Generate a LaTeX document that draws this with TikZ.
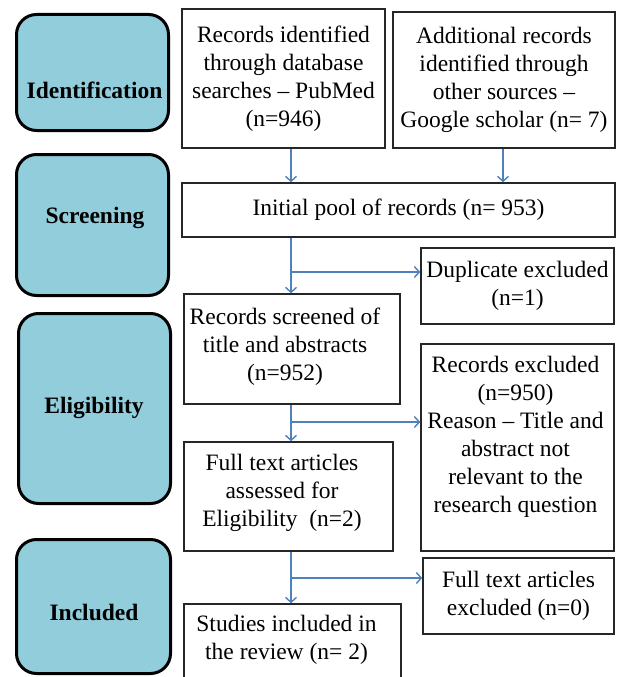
\documentclass[tikz,border=0pt]{standalone}
\usepackage{fontspec}
\setmainfont{Liberation Serif}
\usetikzlibrary{arrows.meta}
\definecolor{stagefill}{HTML}{92CDDC}
\definecolor{arrowblue}{HTML}{4F81BD}
\begin{document}
\begin{tikzpicture}[x=1pt,y=-1pt,
  stage/.style={draw=black, line width=3pt, fill=stagefill, rounded corners=20pt, inner sep=0pt},
  stagetext/.style={font=\bfseries\fontsize{23.5}{28}\selectfont, inner sep=0pt},
  box/.style={draw=black!85, line width=1.5pt, inner sep=0pt, align=center, font=\fontsize{23.5}{28}\selectfont},
  txt/.style={inner sep=0pt, align=center, font=\fontsize{23.5}{28}\selectfont},
  flow/.style={draw=arrowblue, line width=1.4pt, -{Straight Barb[length=5pt,width=11pt,line width=1.4pt]}}]
\useasboundingbox (0,0) rectangle (617,677);
\fill[white] (0,0) rectangle (617,677);

% stage boxes
\node[stage, minimum width=152pt, minimum height=116pt] (sid) at (92.5,72.5) {};
\node[stagetext] (sidt) at (94.5,90) {Identification};
\node[stage, minimum width=152pt, minimum height=141pt] (ssc) at (92.5,225) {};
\node[stagetext] (ssct) at (95,218) {Screening};
\node[stage, minimum width=152pt, minimum height=190pt] (sel) at (94.5,408.5) {};
\node[stagetext] (selt) at (94,408) {Eligibility};
\node[stage, minimum width=154pt, minimum height=134pt] (sin) at (93.5,606.5) {};
\node[stagetext] (sint) at (94,612) {Included};

% flow boxes
\node[box, minimum width=203pt, minimum height=139pt] (r1) at (283.5,78.5)
  {Records identified\\through database\\searches -- PubMed\\(n=946)};
\node[box, minimum width=222pt, minimum height=136pt] (r2) at (504,80)
  {Additional records\\identified through\\other sources --\\Google scholar (n= 7)};
\node[box, minimum width=433pt, minimum height=54pt] (init) at (398.5,210)
  {Initial pool of records (n= 953)};
\node[box, minimum width=193pt, minimum height=76pt] (dup) at (517.5,286)
  {Duplicate excluded\\(n=1)};
\node[box, minimum width=216pt, minimum height=110pt] (scr) at (292,349) {};
\node[txt] (scrt) at (285,346.5) {Records screened of\\title and abstracts\\(n=952)};
\node[box, minimum width=193pt, minimum height=207pt] (excl) at (517.5,447.5) {};
\node[txt] (exclt) at (515.5,436.5) {Records excluded\\(n=950)\\Reason -- Title and\\abstract not\\relevant to the\\research question};
\node[box, minimum width=209pt, minimum height=109pt] (ft) at (288.5,496.5) {};
\node[txt] (ftt) at (282,493) {Full text articles\\assessed for\\Eligibility\ \ (n=2)};
\node[box, minimum width=191pt, minimum height=76pt] (ftx) at (518.5,596)
  {Full text articles\\excluded (n=0)};
\node[box, minimum width=217pt, minimum height=86pt] (st) at (292.5,647) {};
\node[txt] (stt) at (286.5,640) {Studies included in\\the review (n= 2)};

% connectors
\coordinate (col) at (291,0);
\coordinate (col2) at (503,0);
\coordinate (j1) at (291,272);
\coordinate (j2) at (291,422);
\coordinate (j3) at (291,578);
\draw[flow] (col |- r1.south) -- (col |- init.north);
\draw[flow] (col2 |- r2.south) -- (col2 |- init.north);
\draw[flow] (col |- init.south) -- (col |- scr.north);
\draw[flow] (j1) -- (j1 -| dup.west);
\draw[flow] (col |- scr.south) -- (col |- ft.north);
\draw[flow] (j2) -- (j2 -| excl.west);
\draw[flow] (col |- ft.south) -- (col |- st.north);
\draw[flow] (j3) -- (j3 -| ftx.west);
\end{tikzpicture}
\end{document}
